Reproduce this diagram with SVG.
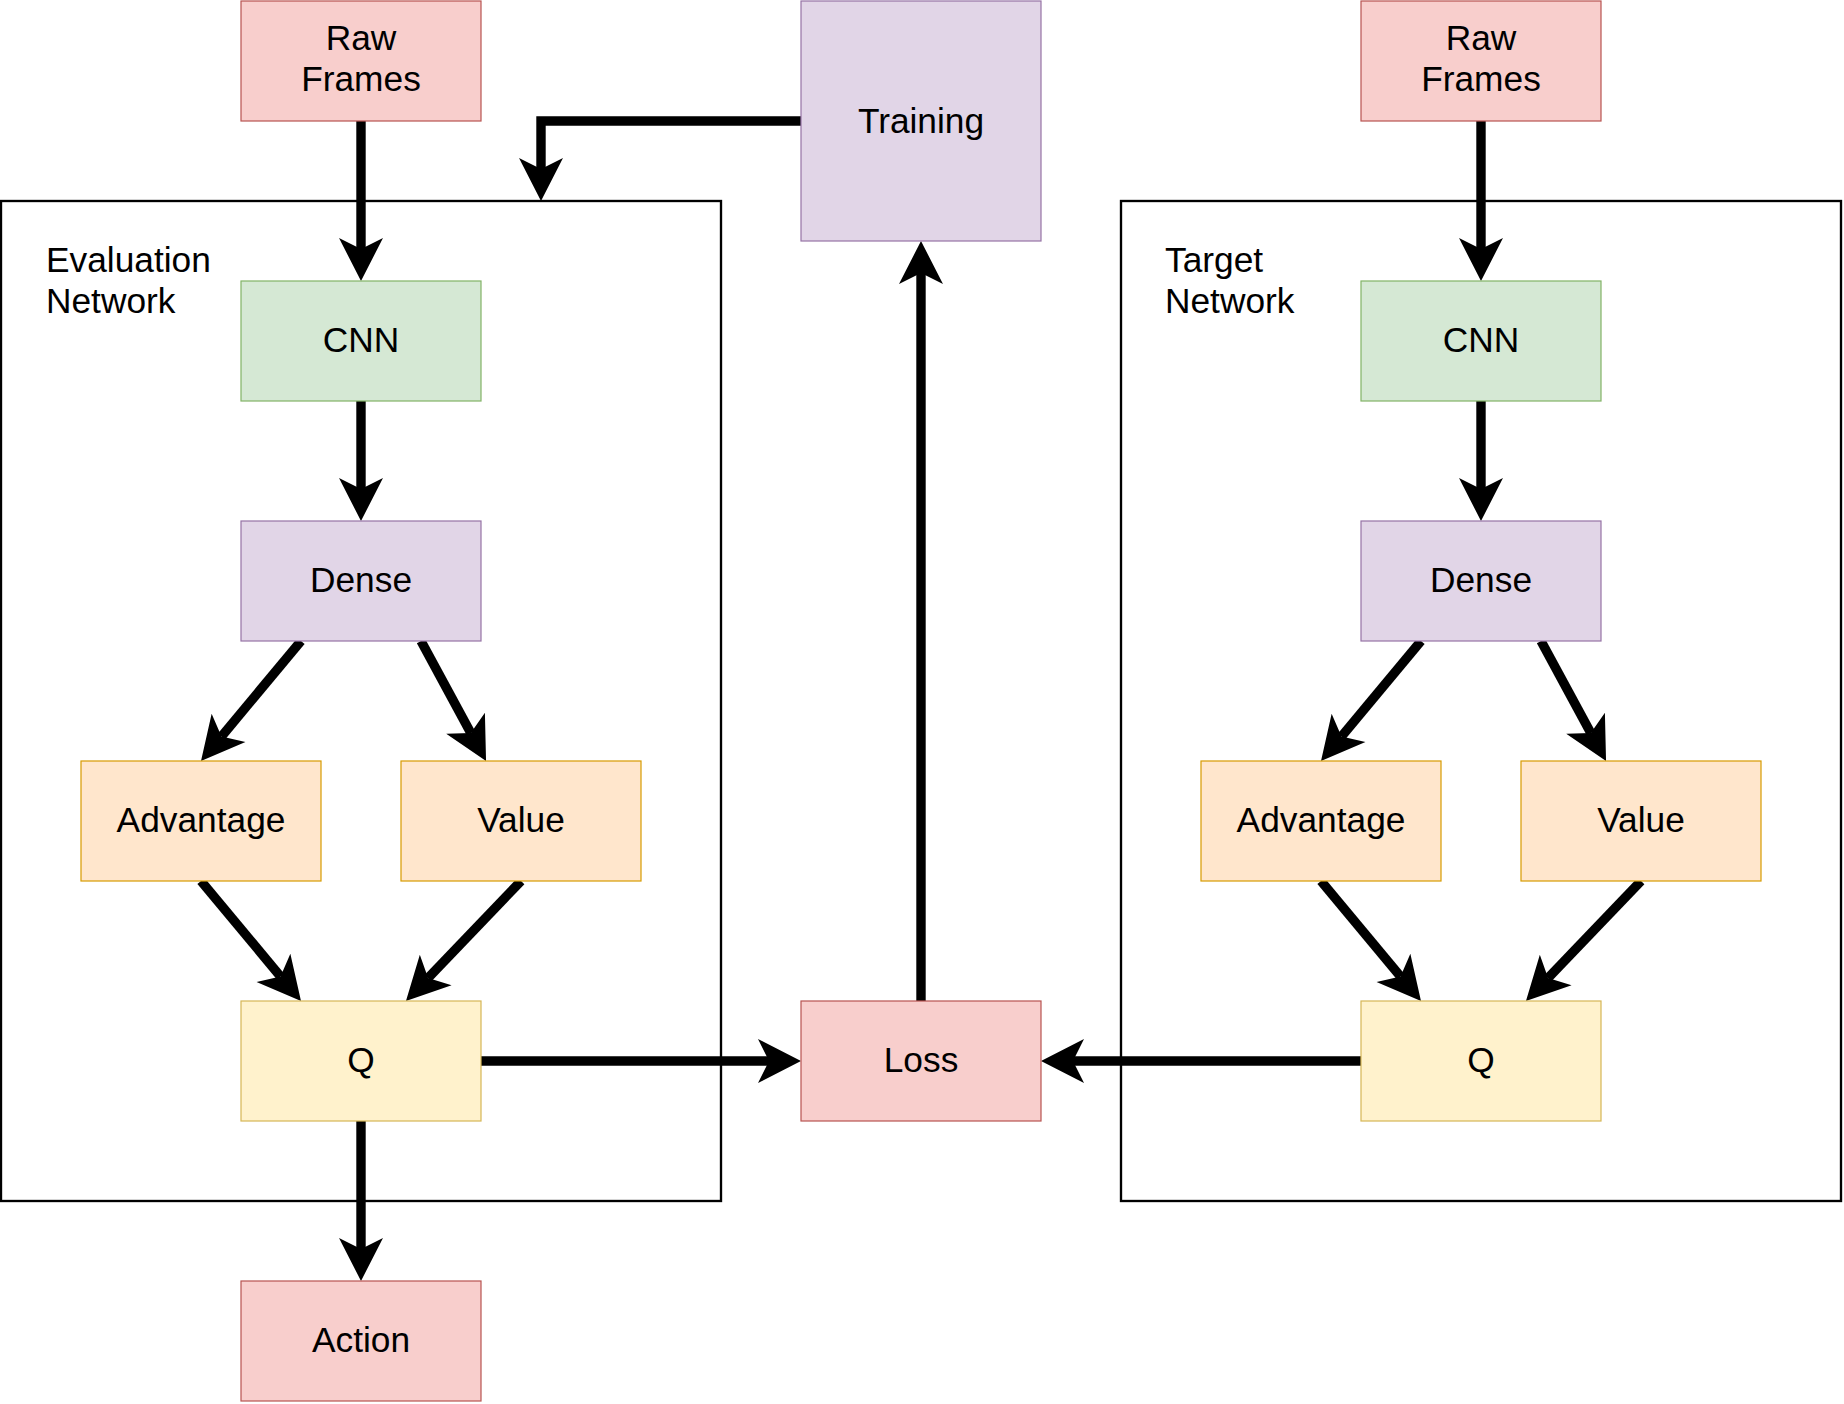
<svg xmlns="http://www.w3.org/2000/svg" width="1844" height="1404" viewBox="0 0 1844 1404">
<style>
  .box { stroke-width: 1.2; }
  .red { fill: #f8cecc; stroke: #b85450; }
  .green { fill: #d5e8d4; stroke: #82b366; }
  .purple { fill: #e1d5e7; stroke: #9673a6; }
  .orange { fill: #ffe6cc; stroke: #d79b00; }
  .yellow { fill: #fff2cc; stroke: #d6b656; }
  .container { fill: none; stroke: #000000; stroke-width: 2.35; }
  text { font-family: "Liberation Sans", Arial, Helvetica, sans-serif; font-size: 35.3px; fill: #000000; }
  .c { text-anchor: middle; }
  .edge { fill: none; stroke: #000000; stroke-width: 9.4; stroke-linecap: butt; stroke-linejoin: miter; marker-end: url(#arrow); }
</style>
<defs>
  <marker id="arrow" markerUnits="userSpaceOnUse" orient="auto" refX="0" refY="0" markerWidth="60" markerHeight="60" overflow="visible">
    <path d="M32,0 L-11,-22 L0,0 L-11,22 Z" fill="#000000"/>
  </marker>
</defs>
<rect width="1844" height="1404" fill="#ffffff"/>

<g id="eval-network">
  <rect class="container" x="1" y="201" width="720" height="1000"/>
  <text x="46" y="272">Evaluation</text>
  <text x="46" y="313">Network</text>
</g>
<g id="target-network">
  <rect class="container" x="1121" y="201" width="720" height="1000"/>
  <text x="1165" y="272">Target</text>
  <text x="1165" y="313">Network</text>
</g>

<g id="connectors">
  <path class="edge" d="M361,121 L361,249"/>
  <path class="edge" d="M361,401 L361,489"/>
  <path class="edge" d="M301,641 L221.5,736.4"/>
  <path class="edge" d="M421,641 L470.8,732.9"/>
  <path class="edge" d="M201,881 L280.5,976.4"/>
  <path class="edge" d="M521,881 L428.1,977.9"/>
  <path class="edge" d="M481,1061 L769,1061"/>
  <path class="edge" d="M361,1121 L361,1249"/>
  <path class="edge" d="M921,1001 L921,273"/>
  <path class="edge" d="M801,121 L541,121 L541,169"/>
  <path class="edge" d="M1481,121 L1481,249"/>
  <path class="edge" d="M1481,401 L1481,489"/>
  <path class="edge" d="M1421,641 L1341.5,736.4"/>
  <path class="edge" d="M1541,641 L1590.8,732.9"/>
  <path class="edge" d="M1321,881 L1400.5,976.4"/>
  <path class="edge" d="M1641,881 L1548.1,977.9"/>
  <path class="edge" d="M1361,1061 L1073,1061"/>
</g>

<g id="raw-frames-left">
  <rect class="box red" x="241" y="1" width="240" height="120"/>
  <text class="c" x="361" y="50">Raw</text>
  <text class="c" x="361" y="91">Frames</text>
</g>
<g id="training">
  <rect class="box purple" x="801" y="1" width="240" height="240"/>
  <text class="c" x="921" y="133">Training</text>
</g>
<g id="raw-frames-right">
  <rect class="box red" x="1361" y="1" width="240" height="120"/>
  <text class="c" x="1481" y="50">Raw</text>
  <text class="c" x="1481" y="91">Frames</text>
</g>

<g id="cnn-left">
  <rect class="box green" x="241" y="281" width="240" height="120"/>
  <text class="c" x="361" y="352">CNN</text>
</g>
<g id="dense-left">
  <rect class="box purple" x="241" y="521" width="240" height="120"/>
  <text class="c" x="361" y="592">Dense</text>
</g>
<g id="advantage-left">
  <rect class="box orange" x="81" y="761" width="240" height="120"/>
  <text class="c" x="201" y="832">Advantage</text>
</g>
<g id="value-left">
  <rect class="box orange" x="401" y="761" width="240" height="120"/>
  <text class="c" x="521" y="832">Value</text>
</g>
<g id="q-left">
  <rect class="box yellow" x="241" y="1001" width="240" height="120"/>
  <text class="c" x="361" y="1072">Q</text>
</g>
<g id="action">
  <rect class="box red" x="241" y="1281" width="240" height="120"/>
  <text class="c" x="361" y="1352">Action</text>
</g>
<g id="loss">
  <rect class="box red" x="801" y="1001" width="240" height="120"/>
  <text class="c" x="921" y="1072">Loss</text>
</g>

<g id="cnn-right">
  <rect class="box green" x="1361" y="281" width="240" height="120"/>
  <text class="c" x="1481" y="352">CNN</text>
</g>
<g id="dense-right">
  <rect class="box purple" x="1361" y="521" width="240" height="120"/>
  <text class="c" x="1481" y="592">Dense</text>
</g>
<g id="advantage-right">
  <rect class="box orange" x="1201" y="761" width="240" height="120"/>
  <text class="c" x="1321" y="832">Advantage</text>
</g>
<g id="value-right">
  <rect class="box orange" x="1521" y="761" width="240" height="120"/>
  <text class="c" x="1641" y="832">Value</text>
</g>
<g id="q-right">
  <rect class="box yellow" x="1361" y="1001" width="240" height="120"/>
  <text class="c" x="1481" y="1072">Q</text>
</g>
</svg>
